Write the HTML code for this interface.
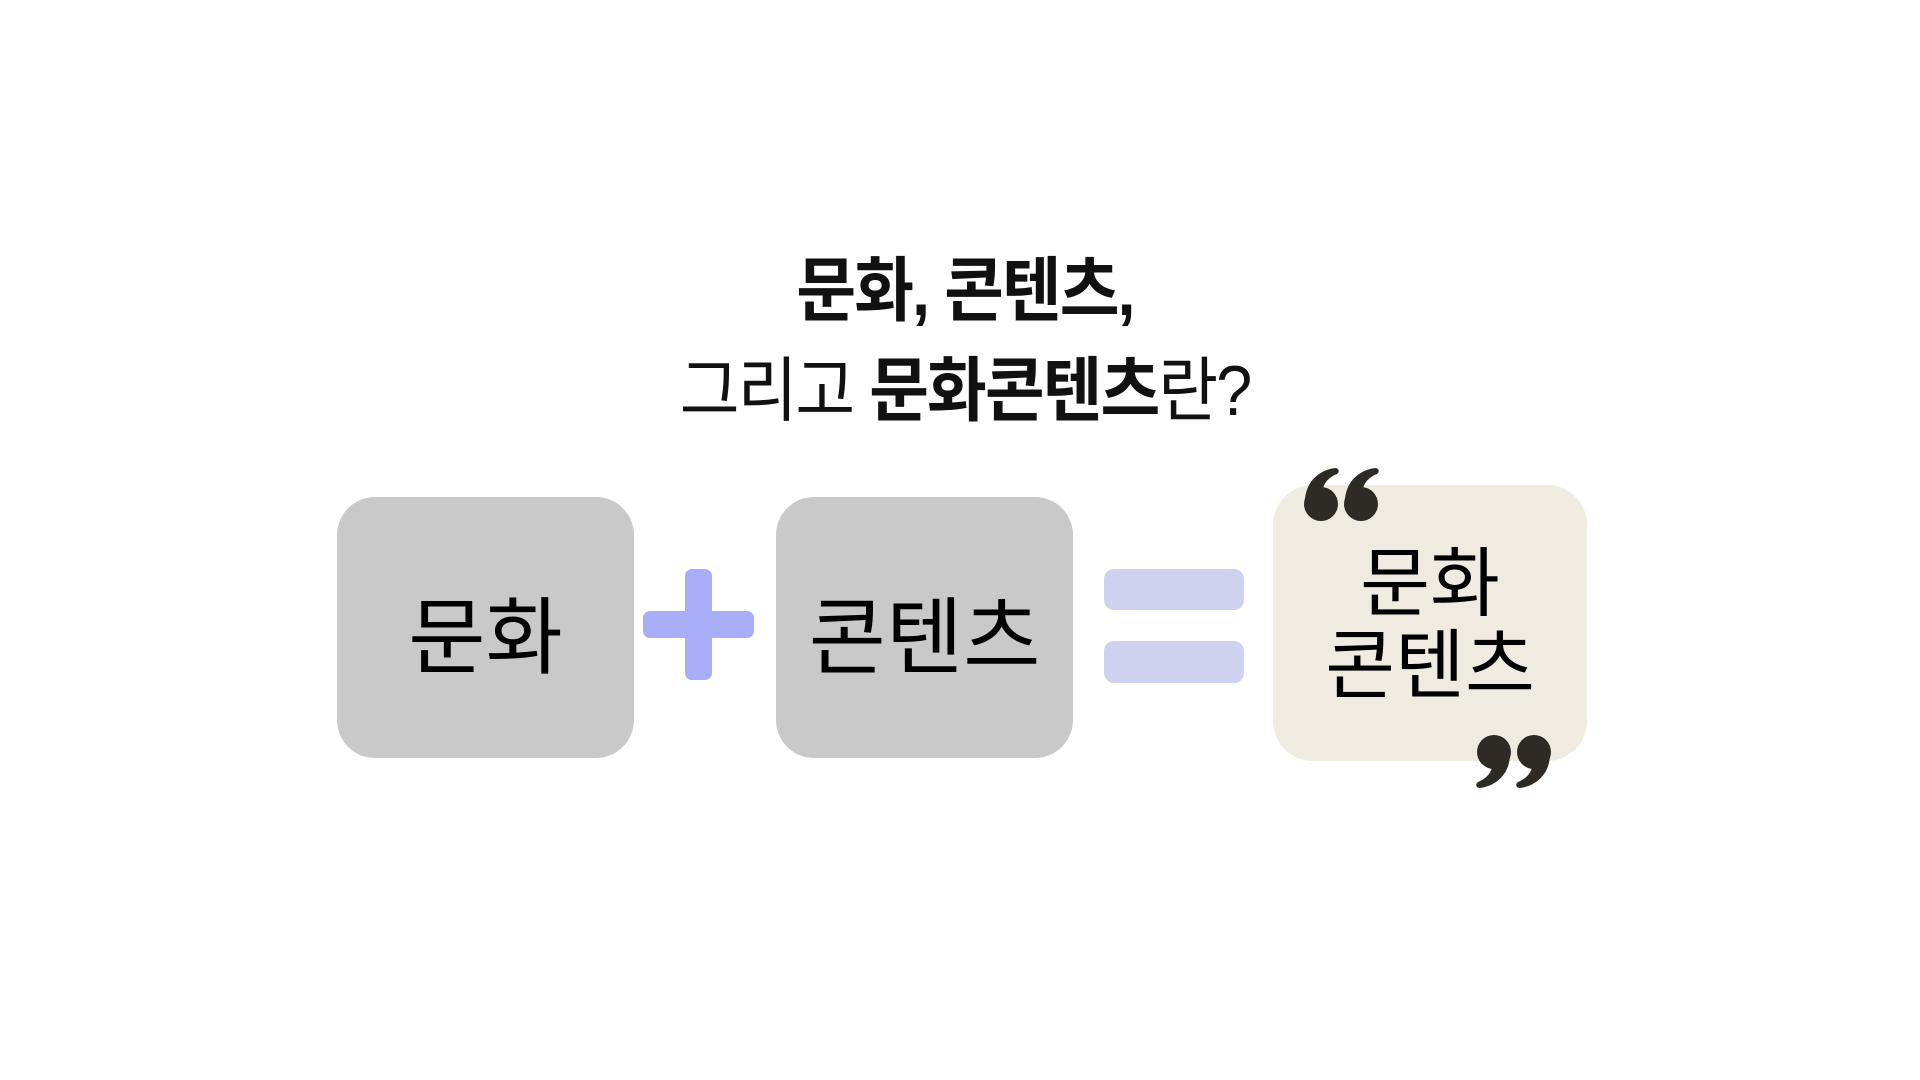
<!DOCTYPE html>
<html><head><meta charset="utf-8"><style>
body{margin:0;width:1920px;height:1080px;background:#fff;position:relative;overflow:hidden;font-family:"Liberation Sans","Noto Sans CJK KR",sans-serif;}
.a{position:absolute}
.box{position:absolute;background:#c9c9c9;border-radius:38px;display:flex;align-items:center;justify-content:center;color:#000;font-size:84px;}
.t{position:absolute;left:0;width:1930px;text-align:center;color:#111;font-size:65px;line-height:1;transform:scaleY(1.08);}
</style></head><body>
<div class="t" style="top:258px;font-weight:700;letter-spacing:-2px">문화, 콘텐츠,</div>
<div class="t" style="top:358px;letter-spacing:-2px">그리고 <b>문화콘텐츠</b>란?</div>
<div class="box" style="left:337px;top:497px;width:297px;height:261px;"><span style="margin-top:8px">문화</span></div>
<div class="box" style="left:776px;top:497px;width:297px;height:261px;"><span style="margin-top:8px">콘텐츠</span></div>
<div class="a" style="left:685px;top:569px;width:27px;height:111px;background:#a8adf7;border-radius:7px"></div>
<div class="a" style="left:643px;top:611px;width:111px;height:27px;background:#a8adf7;border-radius:7px"></div>
<div class="a" style="left:1104px;top:569px;width:140px;height:41px;background:#ced2ef;border-radius:10px"></div>
<div class="a" style="left:1104px;top:641px;width:140px;height:42px;background:#ced2ef;border-radius:10px"></div>
<div class="a" style="left:1273px;top:485px;width:314px;height:276px;background:#efebe0;border-radius:40px;display:flex;flex-direction:column;align-items:center;justify-content:center;font-size:76px;line-height:82px;color:#000"><span style="margin-top:6px">문화</span><span>콘텐츠</span></div>
<svg class="a" style="left:1299px;top:464px" width="84" height="60" viewBox="0 0 84 60">
<g fill="#2e2a25">
<circle cx="22" cy="40" r="17"/><path d="M6 38 C6 18 20 6 36 4 C40 4 41 8 38 10 C28 14 22 22 24 32 Z"/>
<circle cx="62" cy="40" r="17"/><path d="M46 38 C46 18 60 6 76 4 C80 4 81 8 78 10 C68 14 62 22 64 32 Z"/>
</g></svg>
<svg class="a" style="left:1472px;top:732px" width="84" height="60" viewBox="0 0 84 60">
<g fill="#2e2a25" transform="rotate(180 42 30)">
<circle cx="22" cy="40" r="17"/><path d="M6 38 C6 18 20 6 36 4 C40 4 41 8 38 10 C28 14 22 22 24 32 Z"/>
<circle cx="62" cy="40" r="17"/><path d="M46 38 C46 18 60 6 76 4 C80 4 81 8 78 10 C68 14 62 22 64 32 Z"/>
</g></svg>
</body></html>
